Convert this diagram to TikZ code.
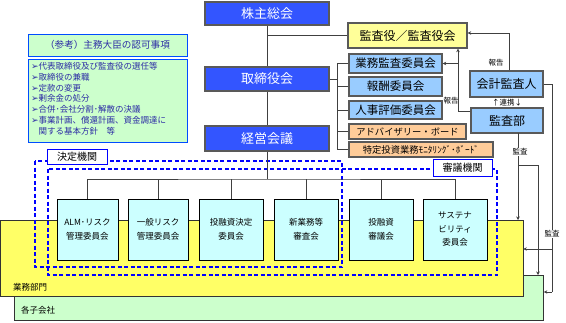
\documentclass[tikz,border=0pt]{standalone}
\usepackage{fontspec}
\setmainfont{Noto Sans CJK JP}
\newfontfamily\dvsans{DejaVu Sans}
\usetikzlibrary{arrows.meta}
\definecolor{topblue}{RGB}{51,85,255}
\definecolor{lblue}{RGB}{153,204,255}
\definecolor{lorange}{RGB}{255,204,153}
\definecolor{lyellow}{RGB}{255,255,153}
\definecolor{byellow}{RGB}{255,255,102}
\definecolor{lcyan}{RGB}{204,255,255}
\definecolor{lgreen}{RGB}{204,255,204}
\definecolor{navytext}{RGB}{45,45,165}
\definecolor{linegray}{RGB}{64,64,64}
\newcommand{\bulletmark}{{\dvsans\fontsize{9}{10.7}\selectfont ➢}}
\begin{document}
\begin{tikzpicture}[x=1pt,y=-1pt,
  topbox/.style={draw=black!65, line width=1.5pt, fill=topblue, text=white, font=\fontsize{13}{15}\selectfont, inner sep=0pt},
  bluebox/.style={draw=black!65, line width=1.3pt, fill=lblue, font=\fontsize{11.5}{13}\selectfont, inner sep=0pt},
  orbox/.style={draw=black!65, line width=1.3pt, fill=lorange, font=\fontsize{9.3}{11}\selectfont, inner sep=0pt},
  yelbox/.style={draw=black!65, line width=1.3pt, fill=lyellow, font=\fontsize{12}{14}\selectfont, inner sep=0pt},
  cmte/.style={draw=black, line width=0.8pt, fill=lcyan, font=\fontsize{8.5}{13.5}\selectfont, align=center, inner sep=0pt, minimum height=61pt},
  conn/.style={draw=linegray, line width=0.8pt},
  arr/.style={conn, -{Stealth[length=3.5pt,width=3.5pt]}},
  dashbox/.style={draw=blue, line width=1.1pt, dash pattern=on 4pt off 2.5pt},
  tagbox/.style={draw=blue, line width=0.8pt, fill=white, font=\fontsize{10}{12}\selectfont, inner sep=0pt},
  refbox/.style={draw=blue!70!cyan, line width=1pt, fill=lgreen, inner sep=0pt},
  lbl/.style={font=\fontsize{7.5}{9}\selectfont, inner sep=0.5pt, fill=white},
  arealbl/.style={font=\fontsize{8.5}{10}\selectfont, inner sep=0pt, anchor=west}
]
\useasboundingbox (0,0) rectangle (566,322);

% areas
\node[draw=black!80, line width=0.8pt, fill=lgreen, minimum width=529pt, minimum height=45pt, anchor=north west, inner sep=0pt] (kogaisha) at (14,275) {};
\node[draw=black!80, line width=0.8pt, fill=byellow, minimum width=522pt, minimum height=76pt, anchor=north west, inner sep=0pt] (bumon) at (0.5,220) {};
\node[arealbl] (bumonlbl) at (13,287) {業務部門};
\node[arealbl] (kolbl) at (21,310) {各子会社};

% dashed groups
\draw[dashbox] (35,161) rectangle (342,267);
\draw[dashbox] (48,169) rectangle (497,275);
\node[tagbox, minimum width=60pt, minimum height=15pt] (kettei) at (77,156.5) {決定機関};
\node[tagbox, minimum width=59pt, minimum height=17pt] (shingi) at (462.5,167.5) {審議機関};

% reference boxes
\node[refbox, minimum width=159pt, minimum height=22pt, text=navytext, font=\fontsize{9.6}{11}\selectfont] (reft) at (107.5,45) {（参考）主務大臣の認可事項};
\node[refbox, minimum width=159pt, minimum height=83pt] (refl) at (107.5,100.5) {};
\node[anchor=north west, inner sep=0pt, align=left, text=navytext, font=\fontsize{8.5}{10.7}\selectfont] (refltext) at (31,62.5)
 {\bulletmark 代表取締役及び監査役の選任等\\
  \bulletmark 取締役の兼職\\
  \bulletmark 定款の変更\\
  \bulletmark 剰余金の処分\\
  \bulletmark 合併･会社分割･解散の決議\\
  \bulletmark 事業計画、償還計画、資金調達に\\
  \hphantom{\bulletmark}関する基本方針　等};

% main hierarchy
\node[topbox, minimum width=124pt, minimum height=23pt] (kabu) at (267,13.5) {株主総会};
\node[topbox, minimum width=124pt, minimum height=24pt] (tori) at (267,79) {取締役会};
\node[topbox, minimum width=124pt, minimum height=25pt] (keiei) at (267,138.5) {経営会議};

\node[yelbox, minimum width=119pt, minimum height=25pt] (kansa) at (407.5,35.5) {監査役／監査役会};
\node[bluebox, minimum width=93pt, minimum height=19pt] (gyomu) at (395.5,63.5) {業務監査委員会};
\node[bluebox, minimum width=93pt, minimum height=19pt] (hoshu) at (395.5,86.5) {報酬委員会};
\node[bluebox, minimum width=93pt, minimum height=18pt] (jinji) at (395.5,110) {人事評価委員会};
\node[orbox, minimum width=117pt, minimum height=15pt] (advis) at (407.5,131.5) {アドバイザリー・ボード};
\node[orbox, minimum width=144pt, minimum height=15pt] (monit) at (421,149.5) {特定投資業務ﾓﾆﾀﾘﾝｸﾞ･ﾎﾞｰﾄﾞ};

\node[bluebox, font=\fontsize{12}{14}\selectfont, minimum width=73pt, minimum height=26pt] (kaikei) at (506.5,84) {会計監査人};
\node[bluebox, font=\fontsize{12}{14}\selectfont, minimum width=72pt, minimum height=25pt] (kansabu) at (507,120.5) {監査部};

% committees
\node[cmte, minimum width=61pt] (c1) at (87.5,229.5) {ALM･リスク\\管理委員会};
\node[cmte, minimum width=60pt] (c2) at (158,229.5) {一般リスク\\管理委員会};
\node[cmte, minimum width=64pt] (c3) at (231,229.5) {投融資決定\\委員会};
\node[cmte, minimum width=64pt] (c4) at (306,229.5) {新業務等\\審査会};
\node[cmte, minimum width=64pt] (c5) at (381,229.5) {投融資\\審議会};
\node[cmte, minimum width=64pt] (c6) at (455,229.5) {サステナ\\ビリティ\\委員会};

% hierarchy connectors
\coordinate (bus) at (267,179);
\coordinate (v1) at (kabu.south |- kansa.west);
\draw[conn] (kabu.south) -- (tori.north);
\draw[conn] (tori.south) -- (keiei.north);
\draw[conn] (keiei.south) -- (bus);
\draw[conn] (v1) -- (kansa.west);
\draw[conn] (c1.north) |- (bus) -| (c6.north);
\draw[conn] (c2.north) -- (c2.north |- bus);
\draw[conn] (c3.north) -- (c3.north |- bus);
\draw[conn] (c4.north) -- (c4.north |- bus);
\draw[conn] (c5.north) -- (c5.north |- bus);

% bracket to committees of board
\coordinate (b0) at (337,79);
\draw[conn] (tori.east) -- (b0);
\draw[conn] (b0 |- gyomu.west) -- (b0 |- monit.west);
\foreach \n in {gyomu,hoshu,jinji,advis,monit}{
  \draw[conn] (b0 |- \n.west) -- (\n.west);
}

% audit reporting
\coordinate (ka) at (509,33);
\draw[arr] (ka |- kaikei.north) -- (ka) -- (ka -| kansa.east);
\node[lbl] (hokoku1) at (496,63) {報告};

\coordinate (j1) at (458,111);
\draw[arr] (j1 -| kansabu.west) -- (j1) -- (j1 |- kansa.south);
\draw[arr] (j1 |- gyomu.east) -- (gyomu.east);
\node[lbl, fill=none] (hokoku2) at (451,101) {報告};
\node[lbl, fill=none] (renkei) at (507,103) {↑連携↓};

% internal audit to business
\coordinate (m1) at (518,133);
\coordinate (k1) at (518,165);
\coordinate (k2) at (538,165);
\draw[arr] (m1) -- (m1 |- bumon.north);
\draw[arr] (k1) -- (k2) -- (k2 |- kogaisha.north);
\node[lbl] (kansa1) at (520,152) {監査};

% external audit to business / subsidiaries
\coordinate (r1) at (552,84);
\coordinate (r2) at (552,249);
\coordinate (r3) at (552,292);
\draw[conn] (kaikei.east |- r1) -- (r1) -- (r3);
\draw[arr] (r2) -- (r2 -| bumon.east);
\draw[arr] (r3) -- (r3 -| kogaisha.east);
\node[lbl] (kansa2) at (552,234) {監査};
\end{tikzpicture}
\end{document}
